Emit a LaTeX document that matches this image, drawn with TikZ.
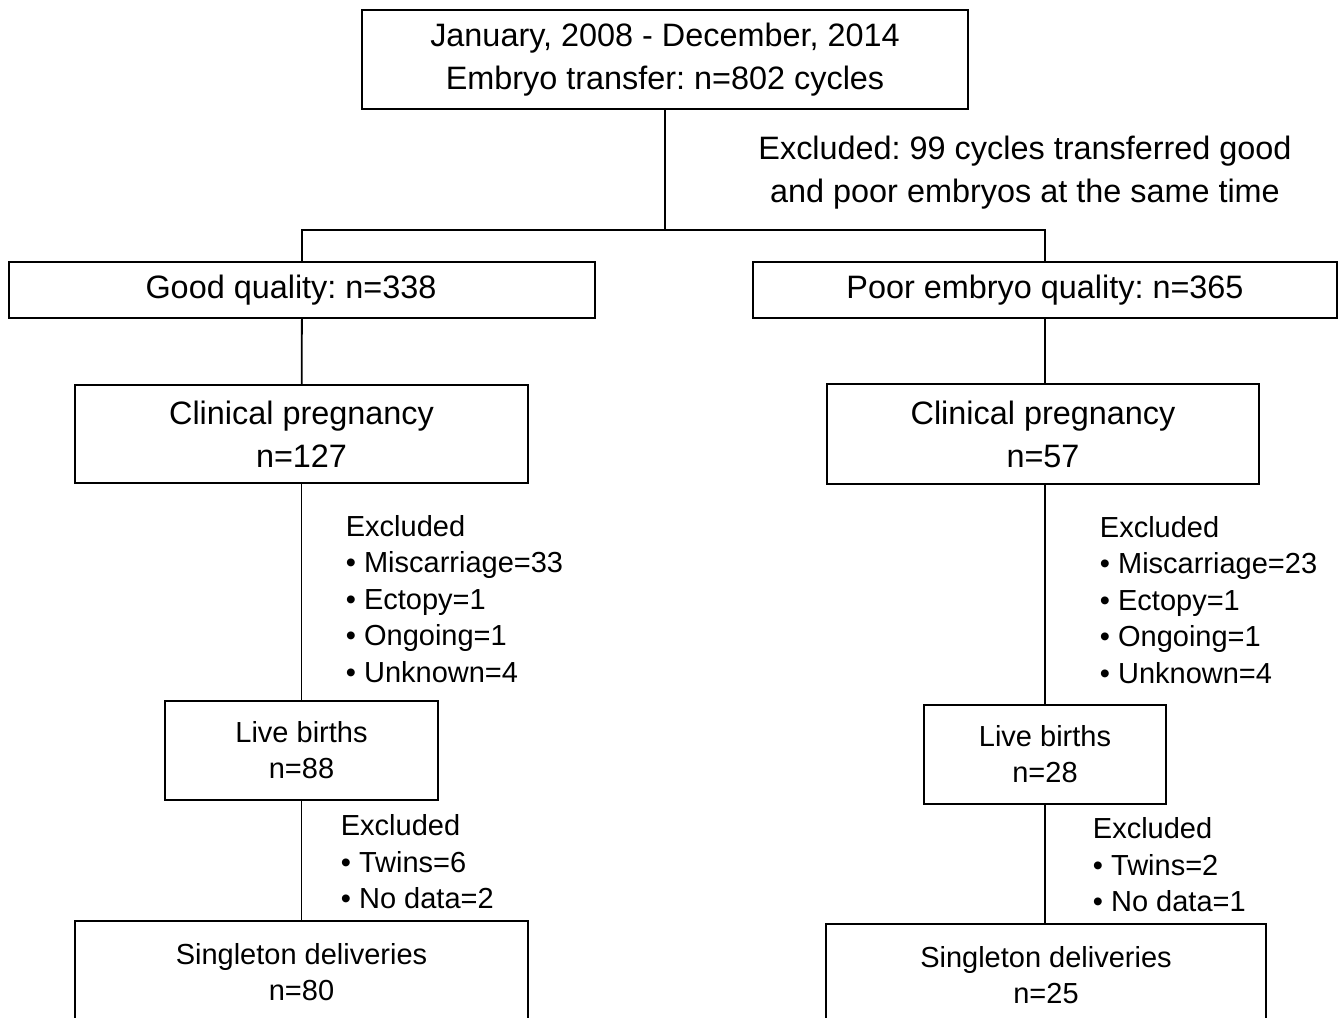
\documentclass[tikz,border=0pt]{standalone}
\usepackage{fontspec}
\setmainfont{Liberation Sans}
\frenchspacing
\usetikzlibrary{positioning}

\begin{document}
\begin{tikzpicture}
  [
    x=0.5pt, y=-0.5pt,
    box/.style={draw, line width=0.9pt, align=center, inner sep=0pt},
    big/.style={font=\fontsize{16.2}{21.5}\selectfont},
    small/.style={font=\fontsize{14.5}{18}\selectfont},
    exclist/.style={align=left, anchor=west, inner sep=0pt,
      font=\fontsize{14.5}{18.3}\selectfont},
    every path/.style={line width=0.9pt}
  ]
  \useasboundingbox (0,0) rectangle (1338,1017);

  % top of the chart
  \node[box, big, minimum width=303pt, minimum height=49.5pt] (start) at (665,59.5)
    {January, 2008 - December, 2014\\Embryo transfer: n=802 cycles};
  \node[big, align=center, inner sep=0pt] (mixed) at (1025,173)
    {Excluded: 99 cycles transferred good\\and poor embryos at the same time};
  \coordinate (split) at (665,230);

  % the two groups
  \node[box, big, minimum width=293pt, minimum height=28pt] (good) at (302,290)
    {\hspace*{-11pt}Good quality: n=338};
  \node[box, big, minimum width=292pt, minimum height=28pt] (poor) at (1045,290)
    {Poor embryo quality: n=365};

  \node[box, big, minimum width=226.5pt, minimum height=49pt] (clinGood) at (301.5,434)
    {Clinical pregnancy\\n=127};
  \node[box, big, minimum width=216pt, minimum height=50pt] (clinPoor) at (1043,434)
    {Clinical pregnancy\\n=57};

  \node[exclist] (exGood) at (345,599)
    {Excluded\\\textbullet\ Miscarriage=33\\\textbullet\ Ectopy=1\\\textbullet\ Ongoing=1\\\textbullet\ Unknown=4};
  \node[exclist] (exPoor) at (1099,600)
    {Excluded\\\textbullet\ Miscarriage=23\\\textbullet\ Ectopy=1\\\textbullet\ Ongoing=1\\\textbullet\ Unknown=4};

  \node[box, small, minimum width=136.5pt, minimum height=49.5pt] (liveGood) at (301.5,750.5)
    {Live births\\n=88};
  \node[box, small, minimum width=121pt, minimum height=49.5pt] (livePoor) at (1045,754.5)
    {Live births\\n=28};

  \node[exclist] (twGood) at (340,862)
    {Excluded\\\textbullet\ Twins=6\\\textbullet\ No data=2};
  \node[exclist] (twPoor) at (1092,865)
    {Excluded\\\textbullet\ Twins=2\\\textbullet\ No data=1};

  \node[box, small, minimum width=226.5pt, minimum height=51pt] (singGood) at (301.5,972)
    {Singleton deliveries\\n=80};
  \node[box, small, minimum width=220pt, minimum height=51pt] (singPoor) at (1046,975)
    {Singleton deliveries\\n=25};

  % connectors
  \draw (start) -- (split);
  \draw (good.north) -- (good.north |- split) -- (poor.north |- split) -- (poor.north);
  \draw (good) -- (clinGood);
  \draw (clinGood) -- (liveGood);
  \draw (liveGood) -- (singGood);
  \draw (poor.south) -- (poor.south |- clinPoor.north);
  \draw (clinPoor.south -| poor.south) -- (poor.south |- livePoor.north);
  \draw (livePoor.south -| poor.south) -- (poor.south |- singPoor.north);
\end{tikzpicture}
\end{document}
